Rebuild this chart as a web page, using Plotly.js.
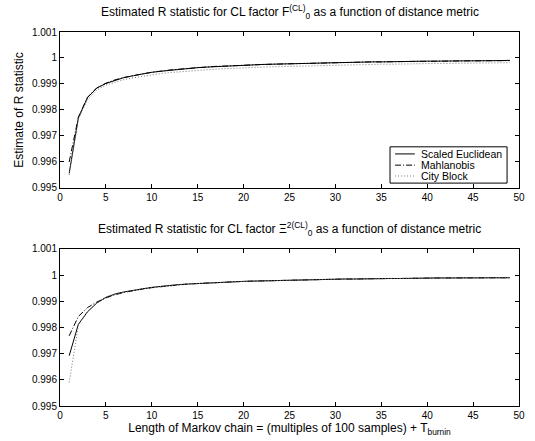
<!DOCTYPE html>
<html>
<head>
<meta charset="utf-8">
<script src="https://cdn.plot.ly/plotly-3.0.1.min.js"></script>
<style>html,body{margin:0;padding:0;background:#fff;}#chart{width:535px;height:441px;}</style>
</head>
<body>
<div id="chart"></div>
<script>
const chainLength = [1,2,3,4,5,6,7,8,9,10,11,12,13,14,15,16,17,18,19,20,21,22,23,24,25,26,27,28,29,30,31,32,33,34,35,36,37,38,39,40,41,42,43,44,45,46,47,48,49];

const topEuclidean = [0.99556,0.99770,0.99848,0.99884,0.99902,0.99915,0.99925,0.99932,0.99939,0.99945,
  0.99949,0.99953,0.99957,0.99960,0.99963,0.99965,0.99967,0.99969,0.99971,0.99972,
  0.99974,0.99975,0.99976,0.99977,0.99978,0.99979,0.99980,0.99981,0.99982,0.99982,
  0.99983,0.99984,0.99984,0.99985,0.99985,0.99986,0.99986,0.99987,0.99987,0.99988,
  0.99988,0.99988,0.99989,0.99989,0.99989,0.99990,0.99990,0.99990,0.99991];
const topMahalanobis = [0.99600,0.99772,0.99849,0.99885,0.99903,0.99916,0.99925,0.99933,0.99939,0.99945,
  0.99950,0.99954,0.99957,0.99960,0.99963,0.99965,0.99968,0.99969,0.99971,0.99972,
  0.99974,0.99975,0.99976,0.99977,0.99978,0.99979,0.99980,0.99981,0.99981,0.99982,
  0.99983,0.99983,0.99984,0.99985,0.99985,0.99986,0.99986,0.99986,0.99987,0.99987,
  0.99988,0.99988,0.99988,0.99989,0.99989,0.99989,0.99990,0.99990,0.99990];
const topCityBlock = [0.99550,0.99765,0.99840,0.99877,0.99896,0.99908,0.99917,0.99924,0.99930,0.99935,
  0.99940,0.99944,0.99947,0.99950,0.99953,0.99955,0.99957,0.99959,0.99961,0.99962,
  0.99964,0.99965,0.99966,0.99967,0.99968,0.99969,0.99970,0.99971,0.99972,0.99973,
  0.99973,0.99974,0.99975,0.99975,0.99976,0.99976,0.99977,0.99977,0.99978,0.99978,
  0.99979,0.99979,0.99980,0.99980,0.99980,0.99981,0.99981,0.99981,0.99982];

const botEuclidean = [0.99692,0.99812,0.99860,0.99893,0.99915,0.99928,0.99936,0.99942,0.99948,0.99953,
  0.99957,0.99961,0.99964,0.99966,0.99968,0.99970,0.99972,0.99973,0.99975,0.99976,
  0.99977,0.99978,0.99979,0.99980,0.99981,0.99982,0.99982,0.99983,0.99984,0.99984,
  0.99985,0.99985,0.99986,0.99986,0.99987,0.99987,0.99987,0.99988,0.99988,0.99988,
  0.99989,0.99989,0.99989,0.99989,0.99990,0.99990,0.99990,0.99990,0.99990];
const botMahalanobis = [0.99768,0.99842,0.99876,0.99897,0.99913,0.99925,0.99934,0.99941,0.99947,0.99952,
  0.99956,0.99960,0.99963,0.99966,0.99968,0.99970,0.99972,0.99973,0.99975,0.99976,
  0.99977,0.99978,0.99979,0.99980,0.99981,0.99982,0.99982,0.99983,0.99984,0.99984,
  0.99985,0.99985,0.99986,0.99986,0.99987,0.99987,0.99987,0.99988,0.99988,0.99988,
  0.99989,0.99989,0.99989,0.99989,0.99990,0.99990,0.99990,0.99990,0.99990];
const botCityBlock = [0.99590,0.99808,0.99862,0.99894,0.99914,0.99927,0.99935,0.99942,0.99948,0.99953,
  0.99957,0.99960,0.99963,0.99966,0.99968,0.99970,0.99972,0.99973,0.99975,0.99976,
  0.99977,0.99978,0.99979,0.99980,0.99981,0.99982,0.99982,0.99983,0.99984,0.99984,
  0.99985,0.99985,0.99986,0.99986,0.99987,0.99987,0.99987,0.99988,0.99988,0.99988,
  0.99989,0.99989,0.99989,0.99989,0.99990,0.99990,0.99990,0.99990,0.99990];

const seriesNames = ["Scaled Euclidean", "Mahlanobis", "City Block"];
const yTickVals = [0.995,0.996,0.997,0.998,0.999,1,1.001];
const yTickText = ["0.995","0.996","0.997","0.998","0.999","1","1.001"];
const xTickVals = [0,5,10,15,20,25,30,35,40,45,50];

const styles = [
  {color:"#000", width:1, dash:"solid"},
  {color:"#000", width:1, dash:"6px,2px,1px,2px"},
  {color:"#777", width:1, dash:"1px,2px"}
];

const traces = [];
[topEuclidean, topMahalanobis, topCityBlock].forEach((ys,i)=>{
  traces.push({x:chainLength, y:ys, type:"scatter", mode:"lines", name:seriesNames[i],
    line:styles[i], xaxis:"x", yaxis:"y", showlegend:false});
});
[botEuclidean, botMahalanobis, botCityBlock].forEach((ys,i)=>{
  traces.push({x:chainLength, y:ys, type:"scatter", mode:"lines", name:seriesNames[i],
    line:styles[i], xaxis:"x2", yaxis:"y2", showlegend:false});
});

const font = {family:"Liberation Sans, Arial, sans-serif", size:10, color:"#000"};
function xax(anchor){
  return {range:[0,50], tickvals:xTickVals, ticks:"inside", ticklen:4, tickcolor:"#000",
    showline:true, linecolor:"#000", linewidth:1, mirror:"ticks", showgrid:false, zeroline:false,
    anchor:anchor, tickfont:font};
}
function yax(domain, anchor){
  return {range:[0.995,1.001], tickvals:yTickVals, ticktext:yTickText, ticks:"inside", ticklen:4, tickcolor:"#000",
    showline:true, linecolor:"#000", linewidth:1, mirror:"ticks", showgrid:false, zeroline:false,
    domain:domain, anchor:anchor, tickfont:font};
}

// Compact legend (box + sample lines + labels) in paper coordinates
const legBox = {x0:0.719, x1:0.974, y0:0.596, y1:0.693};
const legRows = [0.674, 0.644, 0.615];
const shapes = [{type:"rect", xref:"paper", yref:"paper", x0:legBox.x0, x1:legBox.x1, y0:legBox.y0, y1:legBox.y1,
  line:{color:"#000", width:1}, fillcolor:"#fff", layer:"above"}];
const legendLabels = [];
seriesNames.forEach((nm,i)=>{
  shapes.push({type:"line", xref:"paper", yref:"paper", x0:0.730, x1:0.773, y0:legRows[i], y1:legRows[i],
    line:styles[i], layer:"above"});
  legendLabels.push({text:nm, xref:"paper", yref:"paper", x:0.782, y:legRows[i], xanchor:"left", yanchor:"middle",
    showarrow:false, font:{family:font.family, size:10.5, color:"#000"}});
});

const layout = {
  width:535, height:441,
  margin:{l:60, r:16, t:32, b:35},
  paper_bgcolor:"#fff", plot_bgcolor:"#fff",
  font:font,
  showlegend:false,
  xaxis: xax("y"),
  yaxis: Object.assign(yax([0.583,1], "x"), {title:{text:"Estimate of R statistic", font:{family:font.family, size:12}, standoff:5}}),
  xaxis2: Object.assign(xax("y2"), {title:{text:"Length of Markov chain = (multiples of 100 samples) + T<sub>burnin</sub>", font:{family:font.family, size:12}, standoff:1}}),
  yaxis2: yax([0,0.42], "x2"),
  shapes:shapes,
  annotations:[
    {text:"Estimated R statistic for CL factor F<sup>(CL)</sup><sub>0</sub> as a function of distance metric",
     xref:"paper", yref:"paper", x:0.5, y:1, yshift:9, xanchor:"center", yanchor:"bottom", showarrow:false,
     font:{family:font.family, size:12}},
    {text:"Estimated R statistic for CL factor Ξ<sup>2(CL)</sup><sub>0</sub> as a function of distance metric",
     xref:"paper", yref:"paper", x:0.5, y:0.42, yshift:9, xanchor:"center", yanchor:"bottom", showarrow:false,
     font:{family:font.family, size:12}}
  ].concat(legendLabels)
};

Plotly.newPlot("chart", traces, layout, {displayModeBar:false, staticPlot:true});
</script>
</body>
</html>
